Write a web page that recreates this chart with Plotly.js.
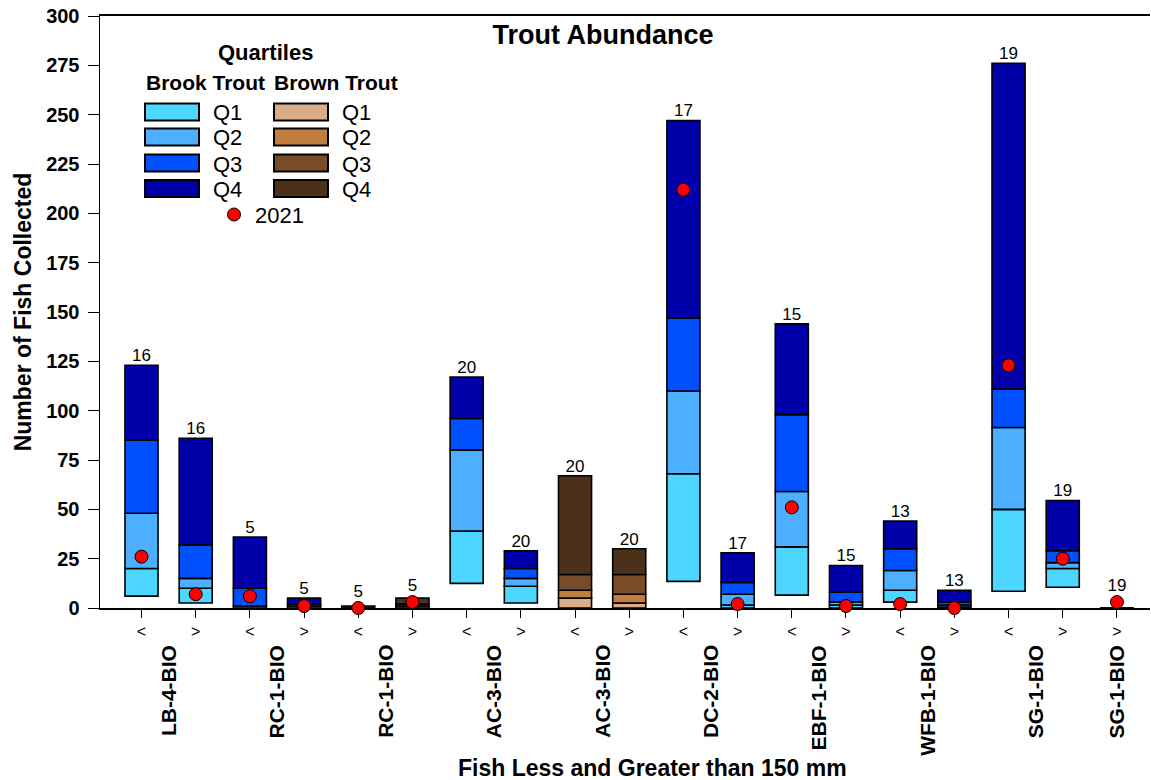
<!DOCTYPE html>
<html>
<head>
<meta charset="utf-8">
<script src="https://cdn.plot.ly/plotly-3.0.1.min.js"></script>
<style>html,body{margin:0;padding:0;background:#fff;}#chart{width:1151px;height:780px;}</style>
</head>
<body>
<div id="chart"></div>
<script>
// ---------- data ----------
const sites = ['LB-4-BIO','LB-4-BIO','RC-1-BIO','RC-1-BIO','RC-1-BIO','RC-1-BIO','AC-3-BIO','AC-3-BIO','AC-3-BIO','AC-3-BIO','DC-2-BIO','DC-2-BIO','EBF-1-BIO','EBF-1-BIO','WFB-1-BIO','WFB-1-BIO','SG-1-BIO','SG-1-BIO','SG-1-BIO'];
const sizeClass = ['<','>','<','>','<','>','<','>','<','>','<','>','<','>','<','>','<','>','>'];
const species = ['Brook','Brook','Brook','Brook','Brown','Brown','Brook','Brook','Brown','Brown','Brook','Brook','Brook','Brook','Brook','Brook','Brook','Brook','Brown'];
const minVals = [6, 2.5, 0, 0, 0, 0, 12.5, 2.5, 0, 0, 13.5, 0, 6.5, 0, 3, 0, 8.5, 10.5, 0];
const q1Vals  = [20, 10, 0, 0, 0, 0, 39, 11, 5, 2.5, 68, 1.5, 31, 1.5, 9, 0.5, 50, 20, 0];
const medVals = [48, 15, 1, 1, 0, 1, 80, 15, 9, 7, 110, 7, 59, 3, 19, 1.5, 91.5, 23, 0];
const q3Vals  = [85, 32, 10, 2, 0, 2, 96, 20, 17, 17, 147, 13, 98, 8, 30, 3, 111, 29, 0];
const maxVals = [123, 86, 36, 5, 1, 5, 117, 29, 67, 30, 247, 28, 144, 21.5, 44, 9, 276, 54.5, 0];
const sampleN = [16, 16, 5, 5, 5, 5, 20, 20, 20, 20, 17, 17, 15, 15, 13, 13, 19, 19, 19];
const fish2021 = [26, 7, 6, 1, 0, 3, null, null, null, null, 212, 2, 51, 1, 2, 0, 123, 25, 3];
const quartileNames = ['Q1','Q2','Q3','Q4'];
const brookColors = ['#4DD6FF','#4DAFFF','#0050FF','#0000AA'];
const brownColors = ['#DAAD87','#C07F40','#784C28','#4C311A'];
const yTickVals = [0,25,50,75,100,125,150,175,200,225,250,275,300];

// ---------- build ----------
const FONT = 'Liberation Sans, Arial, sans-serif';
const idx = sites.map((_, i) => i);
const bounds = [minVals, q1Vals, medVals, q3Vals, maxVals];
const traces = [];
[['Brook', brookColors], ['Brown', brownColors]].forEach(([sp, cols]) => {
  quartileNames.forEach((q, k) => {
    traces.push({
      type: 'bar', name: sp + ' Trout ' + q, x: idx,
      base: idx.map(i => species[i] === sp ? bounds[k][i] : null),
      y: idx.map(i => species[i] === sp ? bounds[k + 1][i] - bounds[k][i] : null),
      width: 0.61,
      marker: {color: cols[k], line: {color: '#000', width: 1.6}},
      showlegend: false, hoverinfo: 'skip'
    });
  });
});
traces.push({
  type: 'scatter', mode: 'markers', name: '2021', x: idx, y: fish2021,
  marker: {color: '#FF0000', size: 13, line: {color: '#000', width: 1}},
  cliponaxis: false, showlegend: false
});
traces.push({
  type: 'scatter', mode: 'text', x: idx,
  y: idx.map(i => Math.max(maxVals[i], fish2021[i] == null ? 0 : fish2021[i] + 3.5)),
  text: sampleN.map(String), textposition: 'top center',
  textfont: {family: FONT, size: 17, color: '#000'},
  cliponaxis: false, showlegend: false, hoverinfo: 'skip'
});

// helpers: pixel -> paper coordinates (plot area 100..1150 x 16..608)
const PX = p => (p - 100) / 1050;
const PY = p => (608 - p) / 592;

const annotations = [];
// group (site) labels: runs of the same site and species
let start = 0;
for (let i = 1; i <= sites.length; i++) {
  if (i === sites.length || sites[i] !== sites[start] || species[i] !== species[start]) {
    annotations.push({
      x: (start + i - 1) / 2, xref: 'x', y: PY(643), yref: 'paper',
      text: '<b>' + sites[start] + '</b>', textangle: -90, showarrow: false,
      xanchor: 'center', yanchor: 'top', font: {family: FONT, size: 21, color: '#000'}
    });
    start = i;
  }
}
annotations.push({
  x: PX(652), xref: 'paper', y: PY(768), yref: 'paper', showarrow: false,
  text: '<b>Fish Less and Greater than 150 mm</b>', xanchor: 'center', yanchor: 'middle',
  font: {family: FONT, size: 23, color: '#000'}
});

// custom legend
const shapes = [];
annotations.push({x: PX(265), y: PY(52), xref: 'paper', yref: 'paper', showarrow: false,
  text: '<b>Quartiles</b>', font: {family: FONT, size: 22, color: '#000'}, xanchor: 'center', yanchor: 'middle'});
annotations.push({x: PX(144), y: PY(83), xref: 'paper', yref: 'paper', showarrow: false,
  text: '<b>Brook Trout</b>', font: {family: FONT, size: 21, color: '#000'}, xanchor: 'left', yanchor: 'middle'});
annotations.push({x: PX(272), y: PY(83), xref: 'paper', yref: 'paper', showarrow: false,
  text: '<b>Brown Trout</b>', font: {family: FONT, size: 21, color: '#000'}, xanchor: 'left', yanchor: 'middle'});
const rowY = [112, 137, 163, 188.5];
[[145, brookColors], [274, brownColors]].forEach(([x0, cols]) => {
  quartileNames.forEach((q, k) => {
    shapes.push({type: 'rect', xref: 'paper', yref: 'paper',
      x0: PX(x0), x1: PX(x0 + 54), y0: PY(rowY[k] - 8.5), y1: PY(rowY[k] + 8.5),
      fillcolor: cols[k], line: {color: '#000', width: 2}});
    annotations.push({x: PX(x0 + 66), y: PY(rowY[k] + 1), xref: 'paper', yref: 'paper', showarrow: false,
      text: q, font: {family: FONT, size: 22, color: '#000'}, xanchor: 'left', yanchor: 'middle'});
  });
});
shapes.push({type: 'circle', xref: 'paper', yref: 'paper',
  x0: PX(227.5), x1: PX(240.5), y0: PY(208), y1: PY(221),
  fillcolor: '#FF0000', line: {color: '#000', width: 1}});
annotations.push({x: PX(253), y: PY(215), xref: 'paper', yref: 'paper', showarrow: false,
  text: '2021', font: {family: FONT, size: 22, color: '#000'}, xanchor: 'left', yanchor: 'middle'});

const layout = {
  width: 1151, height: 780,
  margin: {l: 100, r: 1, t: 16, b: 172, pad: 0},
  paper_bgcolor: '#fff', plot_bgcolor: '#fff',
  barmode: 'overlay', showlegend: false,
  font: {family: FONT, color: '#000'},
  title: {text: '<b>Trout Abundance</b>', font: {family: FONT, size: 27, color: '#000'},
    x: 603 / 1151, xref: 'container', xanchor: 'center', y: 1 - 35 / 780, yref: 'container', yanchor: 'middle'},
  xaxis: {
    range: [-0.766, 18.61], tickmode: 'array', tickvals: idx, ticktext: sizeClass,
    ticks: 'outside', ticklen: 8, tickwidth: 1, tickcolor: '#000',
    tickfont: {family: FONT, size: 16, color: '#000'},
    showline: true, linecolor: '#000', linewidth: 2, mirror: true,
    showgrid: false, zeroline: false, layer: 'below traces', fixedrange: true
  },
  yaxis: {
    range: [0, 300], tickmode: 'array', tickvals: yTickVals, ticktext: yTickVals.map(v => '<b>' + v + '</b>'),
    ticks: 'outside', ticklen: 11, tickwidth: 1, tickcolor: '#000', ticklabelstandoff: 4,
    tickfont: {family: FONT, size: 20, color: '#000'},
    showline: true, linecolor: '#000', linewidth: 1.5,
    showgrid: false, zeroline: false, fixedrange: true,
    title: {text: '<b>Number of Fish Collected</b>', font: {family: FONT, size: 23, color: '#000'}, standoff: 8}
  },
  annotations: annotations, shapes: shapes
};
Plotly.newPlot('chart', traces, layout, {displayModeBar: false, staticPlot: true});
</script>
</body>
</html>
